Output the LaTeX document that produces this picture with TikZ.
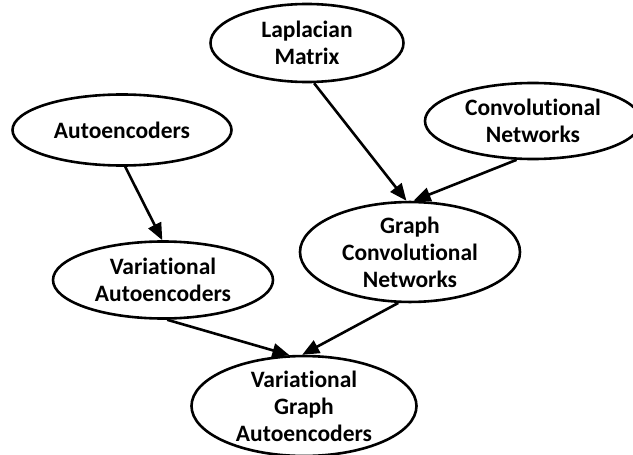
\documentclass[tikz,border=0pt]{standalone}
\usepackage{fontspec}
\setmainfont[Ligatures=NoCommon]{Carlito}
\usepackage{tikz}
\usetikzlibrary{shapes.geometric}
\usetikzlibrary{arrows.meta}

\begin{document}
\begin{tikzpicture}[x=1pt,y=-1pt,
  blob/.style={ellipse,draw,line width=2.6pt,inner sep=0pt,align=center,
    font=\fontsize{23.5}{27}\selectfont\bfseries},
  link/.style={line width=2.6pt,-{Triangle[length=17pt,width=14pt]}}]
 \useasboundingbox (0,0) rectangle (633,455);
  \node[blob,minimum width=193pt,minimum height=78pt] (lap) at (307,43) {Laplacian\\Matrix};
  \node[blob,minimum width=219pt,minimum height=71pt] (auto) at (122,130) {Autoencoders};
  \node[blob,minimum width=216pt,minimum height=76pt] (conv) at (533,121) {Convolutional\\Networks};
  \node[blob,minimum width=220pt,minimum height=87pt] (gcn) at (410,252) {Graph\\Convolutional\\Networks};
  \node[blob,minimum width=220pt,minimum height=77pt] (vae) at (163,280) {Variational\\Autoencoders};
  \node[blob,minimum width=225pt,minimum height=96pt] (vgae) at (304,406) {Variational\\Graph\\Autoencoders};

 \draw[link] (lap.-80) -- (gcn.94);
 \draw[link] (conv.-113) -- (gcn.86);
 \draw[link] (auto.-85) -- (vae.91);
 \draw[link] (vae.-84) -- (vgae.106);
 \draw[link] (gcn.-103) -- (vgae.92);
\end{tikzpicture}
\end{document}
